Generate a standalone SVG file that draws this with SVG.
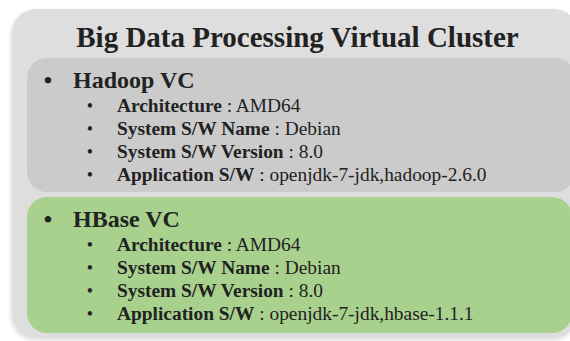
<svg xmlns="http://www.w3.org/2000/svg" width="570" height="341" viewBox="0 0 570 341">
  <style>
    text { font-family: "Liberation Serif", "Times New Roman", serif; fill: #222222; }
    .title { font-size: 29px; font-weight: bold; }
    .head { font-size: 24px; font-weight: bold; }
    .item { font-size: 19.4px; }
    .b { font-weight: bold; }
    .dot { font-size: 18px; }
  </style>
  <defs>
    <filter id="shadow" x="-5%" y="-5%" width="110%" height="110%">
      <feGaussianBlur in="SourceAlpha" stdDeviation="2"/>
      <feOffset dx="-1" dy="2" result="o"/>
      <feComponentTransfer><feFuncA type="linear" slope="0.14"/></feComponentTransfer>
      <feMerge><feMergeNode/><feMergeNode in="SourceGraphic"/></feMerge>
    </filter>
  </defs>
  <rect width="570" height="341" fill="#ffffff"/>
  <g id="cluster">
    <rect x="12" y="9" width="566" height="329" rx="24" ry="24" fill="#dedede" filter="url(#shadow)"/>
    <text class="title" x="297.5" y="47" text-anchor="middle">Big Data Processing Virtual Cluster</text>
  </g>
  <g id="hadoop-vc">
    <rect x="27" y="58" width="548" height="134" rx="20" ry="20" fill="#cbcbcb"/>
    <text class="head" x="48" y="88" text-anchor="middle">•</text>
    <text class="head" x="73" y="88">Hadoop VC</text>
    <g>
      <text class="dot" x="90" y="112" text-anchor="middle">•</text>
      <text class="item" x="117" y="112"><tspan class="b">Architecture</tspan> : AMD64</text>
      <text class="dot" x="90" y="135" text-anchor="middle">•</text>
      <text class="item" x="117" y="135"><tspan class="b">System S/W Name</tspan> : Debian</text>
      <text class="dot" x="90" y="158" text-anchor="middle">•</text>
      <text class="item" x="117" y="158"><tspan class="b">System S/W Version</tspan> : 8.0</text>
      <text class="dot" x="90" y="181" text-anchor="middle">•</text>
      <text class="item" x="117" y="181"><tspan class="b">Application S/W</tspan> : openjdk-7-jdk,hadoop-2.6.0</text>
    </g>
  </g>
  <g id="hbase-vc">
    <rect x="27" y="197" width="545" height="136" rx="20" ry="20" fill="#a9d18e"/>
    <text class="head" x="48" y="227" text-anchor="middle">•</text>
    <text class="head" x="73" y="227">HBase VC</text>
    <g>
      <text class="dot" x="90" y="251" text-anchor="middle">•</text>
      <text class="item" x="117" y="251"><tspan class="b">Architecture</tspan> : AMD64</text>
      <text class="dot" x="90" y="274" text-anchor="middle">•</text>
      <text class="item" x="117" y="274"><tspan class="b">System S/W Name</tspan> : Debian</text>
      <text class="dot" x="90" y="297" text-anchor="middle">•</text>
      <text class="item" x="117" y="297"><tspan class="b">System S/W Version</tspan> : 8.0</text>
      <text class="dot" x="90" y="320" text-anchor="middle">•</text>
      <text class="item" x="117" y="320"><tspan class="b">Application S/W</tspan> : openjdk-7-jdk,hbase-1.1.1</text>
    </g>
  </g>
  <g id="connectors"/>
</svg>
